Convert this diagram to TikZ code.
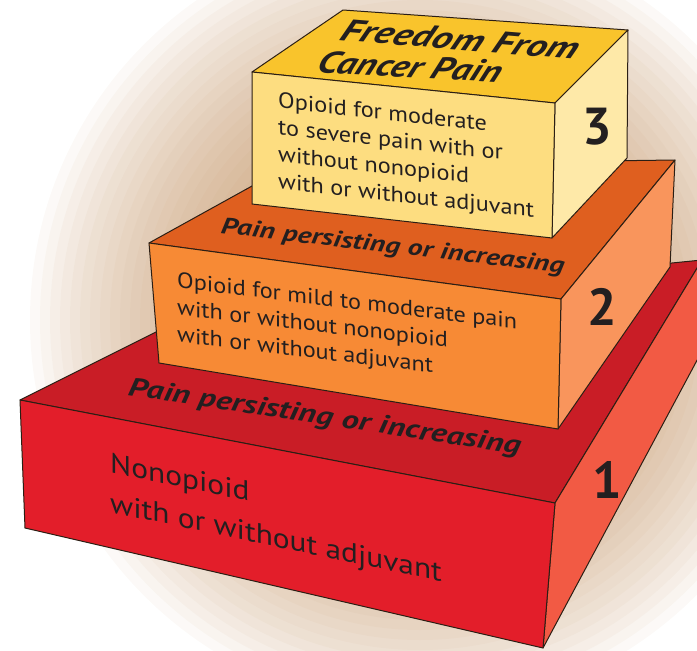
\documentclass[tikz,border=0pt]{standalone}
\usepackage{fontspec}
\setmainfont{PT Sans}
\usetikzlibrary{calc}
\definecolor{edge}{HTML}{2B1E14}
\definecolor{ink}{HTML}{231F20}
\definecolor{ylwF}{HTML}{FDDD80}
\definecolor{ylwR}{HTML}{FEE9A8}
\definecolor{ylwT}{HTML}{F9C42C}
\definecolor{orgF}{HTML}{F78A35}
\definecolor{orgR}{HTML}{F9955C}
\definecolor{orgT}{HTML}{DF5F1F}
\definecolor{redF}{HTML}{E31E2A}
\definecolor{redR}{HTML}{F25A44}
\definecolor{redT}{HTML}{C91D26}
\definecolor{glow}{RGB}{190,140,90}
\tikzset{
  face/.style  ={draw=edge,line width=1pt,line join=round},
  front/.style ={text=ink,align=left,anchor=north west,inner sep=0pt},
  top/.style   ={text=ink,anchor=base west,inner sep=0pt,
                 font=\bfseries\itshape},
  stepno/.style={text=ink,font=\bfseries\fontsize{52}{52}\selectfont,inner sep=0pt},
}

\begin{document}
\begin{tikzpicture}[x=1pt,y=-1pt]
  \clip (0,0) rectangle (697,651);
  % halo behind the steps
  \foreach \r in {390,380,...,200}
    \fill[glow,opacity=.05] (420,320) circle (\r pt);
  % corners: f = front, b = back, t = top, l/r = left/right
  \coordinate (r-ftl) at (20,400);  \coordinate (r-ftr) at (555,503);
  \coordinate (r-fbl) at (25,528);  \coordinate (r-fbr) at (543,648);
  \coordinate (r-btl) at (200,310); \coordinate (r-btr) at (702,260);
  \coordinate (r-bbr) at (702,351);
  \coordinate (o-ftl) at (149,243); \coordinate (o-ftr) at (561,299);
  \coordinate (o-fbl) at (159,363); \coordinate (o-fbr) at (558,429);
  \coordinate (o-btl) at (290,165); \coordinate (o-btr) at (675,160);
  \coordinate (o-bbr) at (670,267);
  \coordinate (y-ftl) at (252,72);  \coordinate (y-ftr) at (555,103);
  \coordinate (y-fbl) at (252,204); \coordinate (y-fbr) at (552,238);
  \coordinate (y-btl) at (343,10);  \coordinate (y-btr) at (628,30);
  \coordinate (y-bbr) at (627,158);
  % step 1
  \filldraw[face,fill=redT] (r-ftl) -- (r-btl) -- (r-btr) -- (r-ftr) -- cycle;
  \filldraw[face,fill=redR] (r-ftr) -- (r-btr) -- (r-bbr) -- (r-fbr) -- cycle;
  \filldraw[face,fill=redF] (r-ftl) -- (r-ftr) -- (r-fbr) -- (r-fbl) -- cycle;
  % step 2
  \filldraw[face,fill=orgT] (o-ftl) -- (o-btl) -- (o-btr) -- (o-ftr) -- cycle;
  \filldraw[face,fill=orgR] (o-ftr) -- (o-btr) -- (o-bbr) -- (o-fbr) -- cycle;
  \filldraw[face,fill=orgF] (o-ftl) -- (o-ftr) -- (o-fbr) -- (o-fbl) -- cycle;
  % step 3
  \filldraw[face,fill=ylwT] (y-ftl) -- (y-btl) -- (y-btr) -- (y-ftr) -- cycle;
  \filldraw[face,fill=ylwR] (y-ftr) -- (y-btr) -- (y-bbr) -- (y-fbr) -- cycle;
  \filldraw[face,fill=ylwF] (y-ftl) -- (y-ftr) -- (y-fbr) -- (y-fbl) -- cycle;

  \node[top,font=\bfseries\itshape\fontsize{31}{31}\selectfont,rotate=-4.7,xslant=.3,xscale=1.3]
        (free1) at (338,40) {Freedom From};
  \node[top,font=\bfseries\itshape\fontsize{31}{31}\selectfont,rotate=-3.2,xslant=.3,xscale=1.23]
        (free2) at (315,72) {Cancer Pain};
  \node[front,font=\fontsize{22}{27}\selectfont,yslant=-.11,xscale=1.1] (txt3) at (278,92)
        {Opioid for moderate\\to severe pain with or\\without nonopioid\\with or without adjuvant};
  \node[stepno] (no3) at (597,127) {3};

  \node[top,font=\bfseries\itshape\fontsize{23}{23}\selectfont,rotate=-6.7,xscale=1.3]
        (pers2) at (220,233) {Pain persisting or increasing};
  \node[front,font=\fontsize{22}{27}\selectfont,yslant=-.12,xscale=1.1] (txt2) at (177,272)
        {Opioid for mild to moderate pain\\with or without nonopioid\\with or without adjuvant};
  \node[stepno] (no2) at (602,307) {2};

  \node[top,font=\bfseries\itshape\fontsize{26}{26}\selectfont,rotate=-8.6,xscale=1.32]
        (pers1) at (127,395) {Pain persisting or increasing};
  \node[front,font=\fontsize{28}{40}\selectfont,yslant=-.21,xscale=1.12] (txt1) at (110,452)
        {Nonopioid\\with or without adjuvant};
  \node[stepno] (no1) at (607,480) {1};
\end{tikzpicture}
\end{document}
